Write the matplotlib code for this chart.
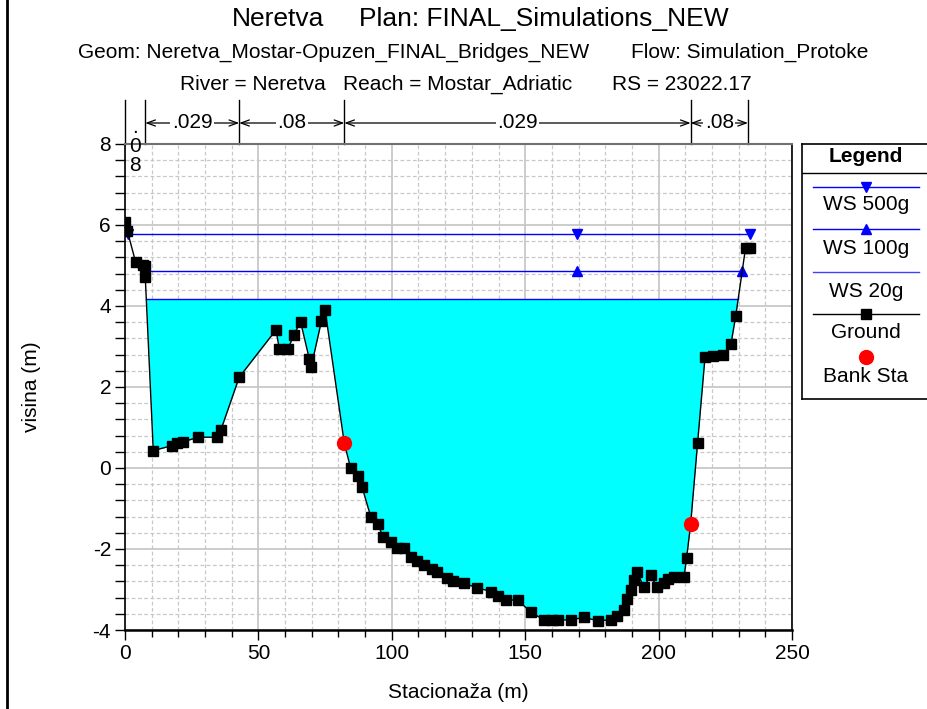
import numpy as np
import matplotlib
matplotlib.use('Agg')
import matplotlib.pyplot as plt
from matplotlib.lines import Line2D
import matplotlib.transforms as mtransforms
from matplotlib.ticker import MultipleLocator

plt.rcParams['font.family'] = ['Liberation Sans', 'DejaVu Sans']
plt.rcParams['axes.unicode_minus'] = False

# ---------------- data ----------------
station = [0.0, 0.9, 4.0, 6.9, 7.6, 7.6, 10.6, 17.5, 19.4, 21.9, 27.5, 34.4, 36.0,
           42.8, 56.6, 57.8, 61.2, 63.2, 65.8, 69.1, 69.8, 73.6, 75.0, 82.2,
           84.6, 87.2, 88.9, 92.1, 94.7, 96.8, 99.7, 101.8, 104.6, 107.2, 109.6,
           112.2, 114.9, 117.1, 120.8, 123.1, 127.1, 132.1, 137.2, 139.9, 142.7,
           147.2, 152.1, 157.0, 159.9, 162.4, 167.0, 172.0, 177.2, 182.0, 184.5,
           187.0, 188.3, 189.5, 190.8, 192.0, 194.5, 197.0, 199.5, 202.0, 203.6,
           205.8, 209.5, 210.5, 212.0, 214.6, 217.4, 220.5, 224.2, 227.1, 228.9,
           232.6, 234.2]
elevation = [6.07, 5.85, 5.08, 5.00, 4.98, 4.71, 0.43, 0.55, 0.61, 0.65, 0.76, 0.76, 0.95,
             2.24, 3.41, 2.95, 2.95, 3.28, 3.61, 2.69, 2.50, 3.62, 3.90, 0.61,
             -0.01, -0.20, -0.48, -1.20, -1.39, -1.70, -1.82, -1.98, -1.98, -2.19, -2.29,
             -2.40, -2.49, -2.56, -2.72, -2.78, -2.85, -2.96, -3.05, -3.16, -3.26,
             -3.26, -3.56, -3.75, -3.75, -3.75, -3.75, -3.69, -3.77, -3.75, -3.65,
             -3.51, -3.24, -3.00, -2.77, -2.58, -2.95, -2.65, -2.95, -2.85, -2.75,
             -2.70, -2.70, -2.22, -1.39, 0.61, 2.74, 2.77, 2.79, 3.05, 3.75,
             5.44, 5.44]
bank_sta = [82.2, 212.0]
bank_elev = [0.61, -1.39]

ws_names = ['WS 500g', 'WS 100g', 'WS 20g']
ws_elev = [5.78, 4.86, 4.17]
ws_markers = ['v', '^', None]
ws_mid_marker_sta = 169.5

n_bounds = [0.0, 7.6, 42.8, 82.2, 212.0, 233.5]
n_values = ['.08', '.029', '.08', '.029', '.08']

title1 = ['Neretva', 'Plan: FINAL_Simulations_NEW']
title2 = ['Geom: Neretva_Mostar-Opuzen_FINAL_Bridges_NEW', 'Flow: Simulation_Protoke']
title3 = ['River = Neretva', 'Reach = Mostar_Adriatic', 'RS = 23022.17']

# ---------------- figure ----------------
W, H = 928, 709
FS = 15
fig = plt.figure(figsize=(W / 100, H / 100), dpi=100)


def fx(px):
    return px / W


def fy(py):
    return 1 - py / H


AX_L, AX_R, AX_T, AX_B = 125, 792, 144, 630
ax = fig.add_axes([fx(AX_L), fy(AX_B), (AX_R - AX_L) / W, (AX_B - AX_T) / H])

x = np.array(station)
y = np.array(elevation)
i0 = int(np.argmin(y))


def crossing(xa, ya, xb, yb, z):
    return xa + (z - ya) * (xb - xa) / (yb - ya)


def ws_extent(z):
    i = i0
    while i > 0 and y[i - 1] < z:
        i -= 1
    left = x[0] if i == 0 else crossing(x[i - 1], y[i - 1], x[i], y[i], z)
    j = i0
    while j < len(x) - 1 and y[j + 1] < z:
        j += 1
    right = x[-1] if j == len(x) - 1 else crossing(x[j], y[j], x[j + 1], y[j + 1], z)
    return left, right


# water fill for WS 20g
ax.fill_between(x, y, ws_elev[2], where=y <= ws_elev[2], interpolate=True,
                color='#00ffff', lw=0, zorder=2)

for z, mk in zip(ws_elev, ws_markers):
    l, r = ws_extent(z)
    ax.plot([l, r], [z, z], color='#0000ff', lw=1.0, zorder=3)
    if mk:
        ax.plot([l, ws_mid_marker_sta, r], [z, z, z], ls='none', marker=mk,
                color='#0000ff', ms=6.5, zorder=4)

ax.plot(x, y, color='black', lw=1.0, marker='s', ms=6.5, mfc='black', mec='black', zorder=5)
ax.plot(bank_sta, bank_elev, ls='none', marker='o', ms=10, color='#ff0000', zorder=6)

ax.set_xlim(0, 250)
ax.set_ylim(-4, 8)
ax.xaxis.set_major_locator(MultipleLocator(50))
ax.xaxis.set_minor_locator(MultipleLocator(10))
ax.yaxis.set_major_locator(MultipleLocator(2))
ax.yaxis.set_minor_locator(MultipleLocator(0.4))
ax.set_axisbelow(True)
ax.grid(which='major', color='#c8c8c8', lw=1.3, ls='-', zorder=0)
ax.grid(which='minor', color='#c8c8c8', lw=0.9, ls=(0, (3, 2)), zorder=0)
ax.tick_params(which='both', direction='out', labelsize=FS, color='black')
ax.tick_params(which='major', length=7, width=1, pad=3)
ax.tick_params(which='minor', length=5, width=1)
ax.tick_params(axis='y', which='minor', length=7)
for s in ['left', 'right']:
    ax.spines[s].set_color('black')
    ax.spines[s].set_linewidth(1.2)
ax.spines['bottom'].set_linewidth(1.8)
ax.spines['top'].set_color('#707070')
ax.spines['top'].set_linewidth(1.5)

fig.text(fx(458), fy(692), 'Stacionaža (m)', fontsize=FS, ha='center', va='center')
fig.text(fx(32), fy(387), 'visina (m)', fontsize=FS, ha='center', va='center', rotation=90)

# Manning's n annotations above the plot
trans = mtransforms.blended_transform_factory(ax.transData, ax.transAxes)
h = AX_B - AX_T
y_top = (AX_B - 100) / h
y_arr = (AX_B - 123) / h
for b in n_bounds:
    ax.plot([b, b], [1, y_top], transform=trans, color='black', lw=1, clip_on=False)
for a, b, v in zip(n_bounds[:-1], n_bounds[1:], n_values):
    c = (a + b) / 2
    if b - a < 10:
        ax.text(c, (AX_B - 118) / h, '.\n0\n8', transform=trans, ha='center', va='top',
                fontsize=FS, linespacing=1.0, zorder=7)
    else:
        ax.annotate('', xy=(a, y_arr), xytext=(b, y_arr), xycoords=trans, textcoords=trans,
                    arrowprops=dict(arrowstyle='<->,head_length=0.6,head_width=0.22',
                                    lw=0.9, color='black', shrinkA=0, shrinkB=0),
                    annotation_clip=False)
        ax.text(c, y_arr, v, transform=trans, ha='center', va='center', fontsize=FS,
                bbox=dict(fc='white', ec='none', pad=1.0))

# titles
fig.text(fx(232), fy(19), title1[0], fontsize=19, ha='left', va='center')
fig.text(fx(359), fy(19), title1[1], fontsize=19, ha='left', va='center')
fig.text(fx(78), fy(52), title2[0], fontsize=FS, ha='left', va='center')
fig.text(fx(868), fy(52), title2[1], fontsize=FS, ha='right', va='center')
fig.text(fx(180), fy(84), title3[0], fontsize=FS, ha='left', va='center')
fig.text(fx(343), fy(84), title3[1], fontsize=FS, ha='left', va='center')
fig.text(fx(612), fy(84), title3[2], fontsize=FS, ha='left', va='center')

# left border
fig.add_artist(Line2D([fx(7), fx(7)], [0, 1], color='black', lw=2))

# legend box
lax = fig.add_axes([fx(802), fy(399), (940 - 802) / W, (399 - 144) / H])
lax.set_xlim(802, 940)
lax.set_ylim(399, 144)
lax.set_xticks([])
lax.set_yticks([])
for s in lax.spines.values():
    s.set_linewidth(1.2)
lax.text(866, 157, 'Legend', fontsize=FS, fontweight='bold', ha='center', va='center')
lax.plot([802, 940], [173, 173], color='black', lw=1)
entries = [
    ('WS 500g', '#0000ff', 'v', 186.7, 205),
    ('WS 100g', '#0000ff', '^', 229, 248),
    ('WS 20g', '#4040ff', None, 271.7, 291.7),
    ('Ground', 'black', 's', 314.3, 332.7),
]
for name, col, mk, ly, ty in entries:
    lax.plot([812.7, 919.3], [ly, ly], color=col, lw=1)
    if mk:
        lax.plot([866], [ly], marker=mk, color=col, ms=6.5)
    lax.text(866, ty, name, fontsize=FS, ha='center', va='center')
lax.plot([866], [357.3], marker='o', color='#ff0000', ms=10, ls='none')
lax.text(866, 376, 'Bank Sta', fontsize=FS, ha='center', va='center')

fig.savefig('out.png', dpi=100)
